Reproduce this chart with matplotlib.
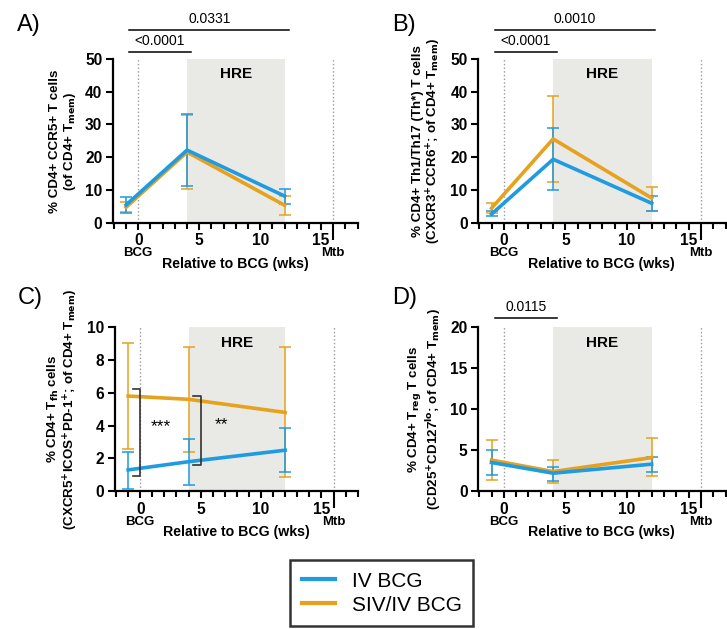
import numpy as np
import matplotlib
matplotlib.use("Agg")
import matplotlib.pyplot as plt
from matplotlib.lines import Line2D

plt.rcParams['font.family'] = ['Liberation Sans', 'DejaVu Sans']

# time points (weeks relative to BCG)
weeks = [-1, 4, 12]

# panel A: CCR5+
a_iv = [5.5, 22.2, 8.2]
a_iv_lo = [3.0, 11.4, 5.8]
a_iv_hi = [7.9, 33.2, 10.5]
a_siv = [4.8, 21.6, 5.4]
a_siv_lo = [3.4, 10.3, 2.5]
a_siv_hi = [6.3, 33.0, 8.2]

# panel B: Th1/Th17
b_iv = [2.7, 19.4, 6.0]
b_iv_lo = [2.0, 10.0, 3.6]
b_iv_hi = [3.5, 29.0, 8.2]
b_siv = [4.5, 25.6, 7.6]
b_siv_lo = [3.0, 12.4, 3.8]
b_siv_hi = [6.0, 38.6, 11.1]

# panel C: Tfh
c_iv = [1.3, 1.8, 2.5]
c_iv_lo = [0.12, 0.4, 1.15]
c_iv_hi = [2.4, 3.2, 3.85]
c_siv = [5.8, 5.6, 4.8]
c_siv_lo = [2.6, 2.4, 0.85]
c_siv_hi = [9.0, 8.8, 8.8]

# panel D: Treg
d_iv = [3.5, 2.2, 3.3]
d_iv_lo = [2.0, 1.3, 2.4]
d_iv_hi = [5.0, 3.0, 4.2]
d_siv = [3.8, 2.4, 4.1]
d_siv_lo = [1.4, 1.0, 1.8]
d_siv_hi = [6.3, 3.75, 6.5]

blue = '#1E9BE1'
orange = '#E6A21E'

fig = plt.figure(figsize=(7.27, 6.29), dpi=100)

def panel(rect, letter, letterpos, ymax, ystep, ylabel, iv, iv_lo, iv_hi, siv, siv_lo, siv_hi):
    ax = fig.add_axes(rect)
    ax.axvspan(4, 12, color='#E9E9E6', lw=0, zorder=0)
    ax.axvline(0, color='#9a9a9a', ls=':', lw=1, zorder=1)
    ax.axvline(16, color='#9a9a9a', ls=':', lw=1, zorder=1)
    for m, lo, hi, c in [(siv, siv_lo, siv_hi, orange), (iv, iv_lo, iv_hi, blue)]:
        m = np.array(m); lo = np.array(lo); hi = np.array(hi)
        ax.errorbar(weeks, m, yerr=[m - lo, hi - m], color=c, lw=2.6,
                    elinewidth=1.1, capsize=4, capthick=1.1, zorder=3)
    ax.set_xlim(-2.1, 18)
    ax.set_ylim(0, ymax)
    ax.set_yticks(np.arange(0, ymax + 0.1, ystep))
    ax.set_xticks([0, 5, 10, 15, 16])
    ax.set_xticklabels(['0', '5', '10', '15', ''])
    ax.set_xticks(np.arange(-2, 19, 1), minor=True)
    ax.tick_params(axis='both', which='major', direction='out', width=1.5, length=5,
                   labelsize=11.2, pad=2.5)
    ax.tick_params(axis='x', which='minor', direction='out', width=1.5, length=4)
    ax.xaxis.get_major_ticks()[4].tick1line.set_markersize(12)
    for lbl in ax.get_xticklabels() + ax.get_yticklabels():
        lbl.set_fontweight('bold')
    for s in ['top', 'right']:
        ax.spines[s].set_visible(False)
    for s in ['left', 'bottom']:
        ax.spines[s].set_linewidth(1.6)
    ax.set_xlabel('Relative to BCG (wks)', fontsize=10.2, fontweight='bold', labelpad=6)
    ax.set_ylabel(ylabel, fontsize=9.6, fontweight='bold', labelpad=5, linespacing=1.1)
    for x, t in [(0, 'BCG'), (16, 'Mtb')]:
        ax.annotate(t, xy=(x, 0), xycoords=('data', 'axes fraction'), xytext=(0, -17.5),
                    textcoords='offset points', ha='center', va='top',
                    fontsize=9.5, fontweight='bold')
    ax.text(8, 0.905, 'HRE', transform=ax.get_xaxis_transform(), ha='center', va='center',
            fontsize=11, fontweight='bold')
    fig.text(letterpos[0], letterpos[1], letter, fontsize=17, ha='left', va='center')
    return ax

def sigbar(ax, x0, x1, yf, label):
    ax.plot([x0, x1], [yf, yf], color='black', lw=1.1, transform=ax.get_xaxis_transform(),
            clip_on=False)
    ax.text((x0 + x1) / 2, yf + 0.025, label, transform=ax.get_xaxis_transform(),
            ha='center', va='bottom', fontsize=10)

axA = panel([0.155, 0.6455, 0.337, 0.261], 'A)', (0.024, 0.96), 50, 10,
            '% CD4+ CCR5+ T cells\n(of CD4+ T$_{\\mathbf{mem}}$)',
            a_iv, a_iv_lo, a_iv_hi, a_siv, a_siv_lo, a_siv_hi)
axB = panel([0.6575, 0.6455, 0.3405, 0.261], 'B)', (0.54, 0.96), 50, 10,
            '% CD4+ Th1/Th17 (Th*) T cells\n(CXCR3$^{\\mathbf{+}}$CCR6$^{\\mathbf{+}}$; of CD4+ T$_{\\mathbf{mem}}$)',
            b_iv, b_iv_lo, b_iv_hi, b_siv, b_siv_lo, b_siv_hi)
axC = panel([0.158, 0.219, 0.334, 0.261], 'C)', (0.024, 0.527), 10, 2,
            '% CD4+ T$_{\\mathbf{fh}}$ cells\n(CXCR5$^{\\mathbf{+}}$ICOS$^{\\mathbf{+}}$PD-1$^{\\mathbf{+}}$; of CD4+ T$_{\\mathbf{mem}}$)',
            c_iv, c_iv_lo, c_iv_hi, c_siv, c_siv_lo, c_siv_hi)
axD = panel([0.6575, 0.219, 0.3405, 0.261], 'D)', (0.54, 0.527), 20, 5,
            '% CD4+ T$_{\\mathbf{reg}}$ T cells\n(CD25$^{\\mathbf{+}}$CD127$^{\\mathbf{lo}}$; of CD4+ T$_{\\mathbf{mem}}$)',
            d_iv, d_iv_lo, d_iv_hi, d_siv, d_siv_lo, d_siv_hi)

sigbar(axA, -0.75, 12.4, 1.177, '0.0331')
sigbar(axA, -0.75, 4.3, 1.043, '<0.0001')
sigbar(axB, -0.75, 12.3, 1.177, '0.0010')
sigbar(axB, -0.75, 4.3, 1.043, '<0.0001')
sigbar(axD, -0.75, 4.3, 1.055, '0.0115')

# brackets in panel C
for x, y0, y1, star in [(0, 0.95, 6.2, '***'), (5, 1.6, 5.8, '**')]:
    axC.plot([x - 0.6, x, x, x - 0.6], [y0, y0, y1, y1], color='#333333', lw=1.2, zorder=4)
    axC.text(x + 1.7, (y0 + y1) / 2 + 0.35, star, ha='center', va='center', fontsize=12.5)

handles = [Line2D([], [], color=blue, lw=3), Line2D([], [], color=orange, lw=3)]
leg = fig.legend(handles, ['IV BCG', 'SIV/IV BCG'], loc='center',
                 bbox_to_anchor=(0.525, 0.057), fontsize=15, frameon=True, fancybox=False,
                 edgecolor='black', handlelength=1.6, handletextpad=0.8,
                 borderpad=0.55, labelspacing=0.25)
leg.get_frame().set_linewidth(1.8)

fig.savefig('out.png', dpi=100)
